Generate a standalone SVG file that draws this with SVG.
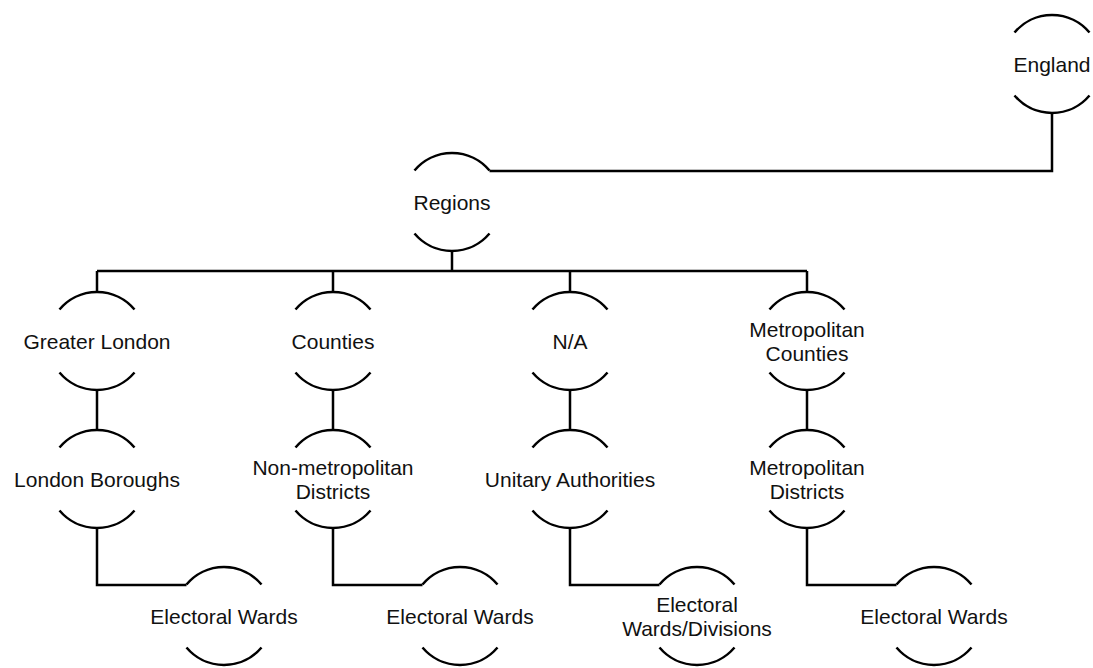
<svg xmlns="http://www.w3.org/2000/svg" width="1093" height="668" viewBox="0 0 1093 668">
<style>
.arc{fill:none;stroke:#000;stroke-width:2.5}
.c{fill:none;stroke:#000;stroke-width:2.5}
text{font-family:"Liberation Sans",Arial,sans-serif;font-size:21px;fill:#111;text-anchor:middle}
</style>
<defs>
<g id="sh">
<path class="arc" d="M-37.5 -31.5 A49 49 0 0 1 37.5 -31.5"/>
<path class="arc" d="M-37.5 31.5 A49 49 0 0 0 37.5 31.5"/>
</g>
</defs>
<rect width="1093" height="668" fill="#fff"/>
<g id="connectors">
<path class="c" d="M1052 112 V171 H489.5"/>
<path class="c" d="M452 250 V271"/>
<path class="c" d="M97 271 H807"/>
<path class="c" d="M97 271 V292 M333 271 V292 M570 271 V292 M807 271 V292"/>
<path class="c" d="M97 390 V430 M333 390 V430 M570 390 V430 M807 390 V430"/>
<path class="c" d="M97 528 V585 H186.5"/>
<path class="c" d="M333 528 V585 H422.5"/>
<path class="c" d="M570 528 V585 H659.5"/>
<path class="c" d="M807 528 V585 H896.5"/>
</g>
<g id="england"><use href="#sh" x="1052" y="64"/><text x="1052" y="71.5">England</text></g>
<g id="regions"><use href="#sh" x="452" y="202"/><text x="452" y="209.5">Regions</text></g>
<g id="greater-london"><use href="#sh" x="97" y="341"/><text x="97" y="348.5">Greater London</text></g>
<g id="counties"><use href="#sh" x="333" y="341"/><text x="333" y="348.5">Counties</text></g>
<g id="na"><use href="#sh" x="570" y="341"/><text x="570" y="348.5">N/A</text></g>
<g id="metropolitan-counties"><use href="#sh" x="807" y="341"/><text x="807" y="336.5">Metropolitan</text><text x="807" y="360.5">Counties</text></g>
<g id="london-boroughs"><use href="#sh" x="97" y="479"/><text x="97" y="486.5">London Boroughs</text></g>
<g id="non-metropolitan-districts"><use href="#sh" x="333" y="479"/><text x="333" y="474.5">Non-metropolitan</text><text x="333" y="498.5">Districts</text></g>
<g id="unitary-authorities"><use href="#sh" x="570" y="479"/><text x="570" y="486.5">Unitary Authorities</text></g>
<g id="metropolitan-districts"><use href="#sh" x="807" y="479"/><text x="807" y="474.5">Metropolitan</text><text x="807" y="498.5">Districts</text></g>
<g id="wards-1"><use href="#sh" x="224" y="616"/><text x="224" y="623.5">Electoral Wards</text></g>
<g id="wards-2"><use href="#sh" x="460" y="616"/><text x="460" y="623.5">Electoral Wards</text></g>
<g id="wards-3"><use href="#sh" x="697" y="616"/><text x="697" y="611.5">Electoral</text><text x="697" y="635.5">Wards/Divisions</text></g>
<g id="wards-4"><use href="#sh" x="934" y="616"/><text x="934" y="623.5">Electoral Wards</text></g>
</svg>
